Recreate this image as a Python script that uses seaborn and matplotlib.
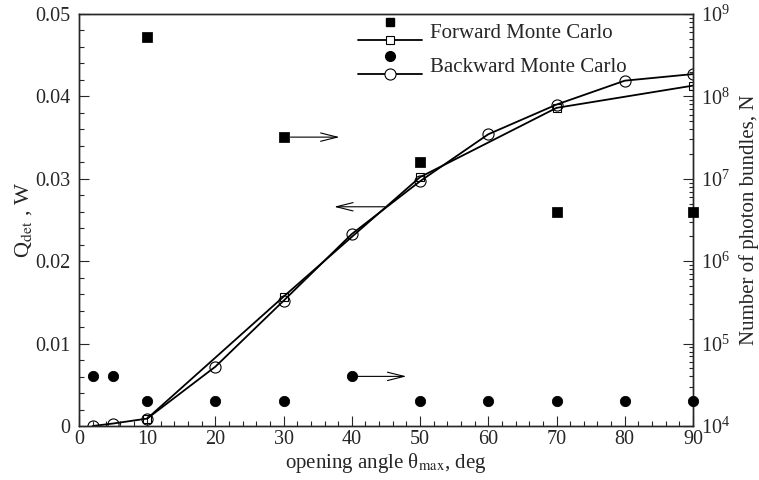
import numpy as np
import matplotlib
matplotlib.use("Agg")
import matplotlib.pyplot as plt
import seaborn as sns
from matplotlib.lines import Line2D
from matplotlib.legend_handler import HandlerBase
from matplotlib.ticker import MultipleLocator, LogLocator, NullFormatter, FuncFormatter

# Q_det curves (left axis)
fwd_angle = [10, 30, 50, 70, 90]
fwd_q = [0.0009, 0.0157, 0.0302, 0.0386, 0.0413]
bwd_angle = [2, 5, 10, 20, 30, 40, 50, 60, 70, 80, 90]
bwd_q = [0.0, 0.0003, 0.0009, 0.0072, 0.0152, 0.0233, 0.0297, 0.0354, 0.0390, 0.0419, 0.0427]

# number of photon bundles (right axis)
fwd_n_angle = [10, 30, 50, 70, 90]
fwd_n = [5.3e8, 3.2e7, 1.6e7, 4.0e6, 4.0e6]
bwd_n_angle = [2, 5, 10, 20, 30, 40, 50, 60, 70, 80, 90]
bwd_n = [4e4, 4e4, 2e4, 2e4, 2e4, 4e4, 2e4, 2e4, 2e4, 2e4, 2e4]

sns.set_style("ticks")
plt.rcParams['font.family'] = ['Liberation Serif', 'DejaVu Serif']
plt.rcParams['mathtext.fontset'] = 'stix'


class StackHandler(HandlerBase):
    # filled marker on top, line with open marker below
    def create_artists(self, legend, orig_handle, xdescent, ydescent,
                       width, height, fontsize, trans):
        top, bottom = orig_handle
        yc = height / 2 - ydescent
        xc = width / 2 - xdescent
        off = 6.5
        m = Line2D([xc], [yc + off], ls='none', marker=top.get_marker(),
                   ms=top.get_markersize(), color='black', transform=trans)
        ln = Line2D([-xdescent, width - xdescent], [yc - off, yc - off],
                    color='black', lw=1.3, transform=trans)
        mk = Line2D([xc], [yc - off], ls='none', marker=bottom.get_marker(),
                    ms=bottom.get_markersize(), mfc='white', mec='black',
                    mew=0.8, transform=trans)
        return [m, ln, mk]


fig = plt.figure(figsize=(7.59, 4.80), dpi=100)
ax = fig.add_axes([0.104, 0.1125, 0.809, 0.8585])
ax2 = ax.twinx()

# lines on left axis
sns.lineplot(x=fwd_angle, y=fwd_q, ax=ax, color='black', lw=1.3, marker='s',
             markersize=5.5, markerfacecolor='none', markeredgecolor='black',
             markeredgewidth=0.8)
sns.lineplot(x=bwd_angle, y=bwd_q, ax=ax, color='black', lw=1.3, marker='o',
             markersize=8, markerfacecolor='none', markeredgecolor='black',
             markeredgewidth=0.8)

# markers on right axis
ax2.set_yscale('log')
sns.scatterplot(x=fwd_n_angle, y=fwd_n, ax=ax2, marker='s', s=45, color='black',
                edgecolor='black', clip_on=False, zorder=5)
sns.scatterplot(x=bwd_n_angle, y=bwd_n, ax=ax2, marker='o', s=55, color='black',
                edgecolor='black', clip_on=False, zorder=5)

ax.set_xlim(0, 90)
ax.set_ylim(0, 0.05)
ax2.set_ylim(1e4, 1e9)

ax.xaxis.set_major_locator(MultipleLocator(10))
ax.xaxis.set_minor_locator(MultipleLocator(2))
ax.yaxis.set_major_locator(MultipleLocator(0.01))
ax.yaxis.set_minor_locator(MultipleLocator(0.002))
ax.yaxis.set_major_formatter(FuncFormatter(lambda v, p: '0' if abs(v) < 1e-9 else f'{v:.2f}'))
ax2.yaxis.set_major_locator(LogLocator(base=10, numticks=10))
ax2.yaxis.set_minor_locator(LogLocator(base=10, subs=np.arange(2, 10), numticks=50))
ax2.yaxis.set_minor_formatter(NullFormatter())

for a in (ax, ax2):
    a.tick_params(which='major', direction='in', length=7, width=0.8, labelsize=14.5, pad=3)
    a.tick_params(which='minor', direction='in', length=3.6, width=0.8)
    for s in a.spines.values():
        s.set_linewidth(1.0)
        s.set_visible(True)
ax.tick_params(axis='y', which='both', right=False, pad=6)
ax.tick_params(axis='x', which='both', top=False)
ax2.tick_params(axis='y', which='minor', length=3)
ax2.tick_params(axis='y', which='major', pad=6)

ax.set_xlabel(r'opening angle θ$_{\rm max}$, deg', fontsize=15, labelpad=1)
ax.set_ylabel(r'Q$_{\rm det}$ , W', fontsize=16, labelpad=1)
ax2.set_ylabel('Number of photon bundles, N', fontsize=15, labelpad=6)

# direction arrows
arrow = dict(arrowstyle='->,head_length=1.0,head_width=0.25', lw=0.8,
             color='black', shrinkA=0, shrinkB=0, mutation_scale=12)
ax.annotate('', xy=(37.4, 0.0266), xytext=(44.8, 0.0266), arrowprops=arrow)
ax2.annotate('', xy=(38.2, 3.2e7), xytext=(31.0, 3.2e7), arrowprops=arrow)
ax2.annotate('', xy=(48.0, 4e4), xytext=(40.0, 4e4), arrowprops=arrow)

# legend
for a in (ax, ax2):
    if a.get_legend():
        a.get_legend().remove()
fwd_h = (Line2D([], [], marker='s', ms=6), Line2D([], [], marker='s', ms=5.5))
bwd_h = (Line2D([], [], marker='o', ms=7), Line2D([], [], marker='o', ms=8))
ax2.legend([fwd_h, bwd_h], ['Forward Monte Carlo', 'Backward Monte Carlo'],
           handler_map={tuple: StackHandler()},
           loc='upper left', bbox_to_anchor=(0.4537, 0.99), frameon=False,
           fontsize=15, handlelength=3.1, handleheight=1.6, labelspacing=0.33,
           handletextpad=0.38, borderaxespad=0, borderpad=0)

fig.savefig('out.png', dpi=100)
